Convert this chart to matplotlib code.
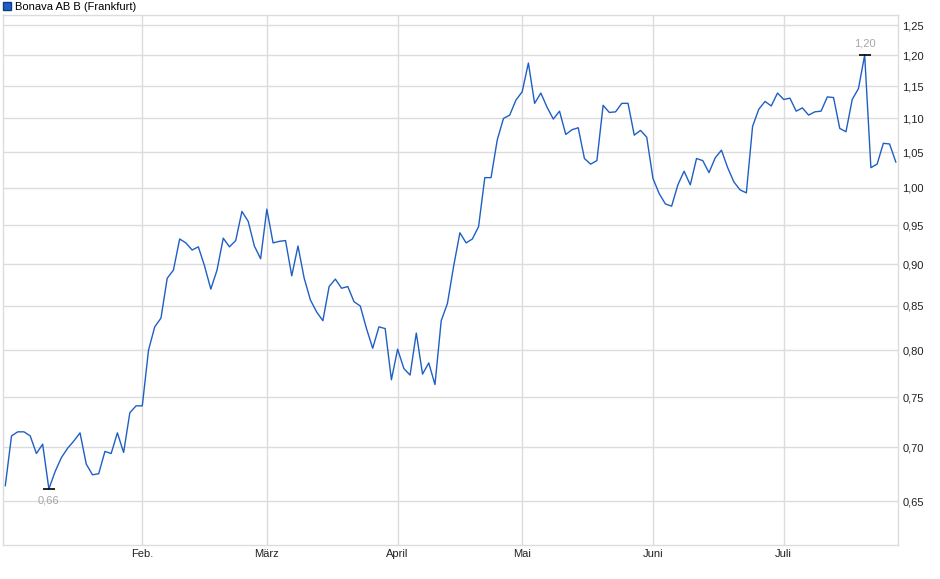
import matplotlib
matplotlib.use('Agg')
import matplotlib.pyplot as plt
from matplotlib.ticker import FixedLocator, FuncFormatter, NullLocator
from matplotlib.lines import Line2D
import numpy as np
import pandas as pd

plt.rcParams['font.family'] = ['Liberation Sans', 'DejaVu Sans']

# Handelstage Frankfurt, 02.01.2025 - 25.07.2025
dates = pd.bdate_range('2025-01-02', '2025-07-25')
holidays = pd.to_datetime(['2025-04-18', '2025-04-21', '2025-05-01'])
dates = dates[~dates.isin(holidays)]

# Schlusskurse (EUR)
prices = [
    0.664, 0.711, 0.715, 0.715, 0.711, 0.694, 0.703, 0.661, 0.677, 0.690,
    0.699, 0.706, 0.714, 0.684, 0.674, 0.675, 0.696, 0.694, 0.714, 0.695,
    0.734, 0.741, 0.741, 0.800, 0.826, 0.836, 0.883, 0.893, 0.932, 0.927,
    0.918, 0.922, 0.898, 0.870, 0.893, 0.933, 0.922, 0.930, 0.968, 0.955,
    0.923, 0.907, 0.971, 0.927, 0.929, 0.930, 0.886, 0.923, 0.883, 0.857,
    0.843, 0.833, 0.873, 0.882, 0.871, 0.873, 0.855, 0.850, 0.824, 0.802,
    0.826, 0.824, 0.768, 0.801, 0.780, 0.773, 0.819, 0.774, 0.786, 0.763,
    0.833, 0.853, 0.898, 0.940, 0.927, 0.932, 0.948, 1.014, 1.014, 1.068,
    1.100, 1.105, 1.128, 1.141, 1.187, 1.123, 1.139, 1.117, 1.099, 1.111,
    1.076, 1.083, 1.086, 1.041, 1.033, 1.038, 1.120, 1.109, 1.110, 1.123,
    1.123, 1.075, 1.082, 1.072, 1.013, 0.992, 0.978, 0.975, 1.004, 1.023,
    1.004, 1.041, 1.038, 1.021, 1.042, 1.053, 1.028, 1.008, 0.997, 0.993,
    1.088, 1.114, 1.126, 1.119, 1.139, 1.129, 1.131, 1.111, 1.116, 1.105,
    1.110, 1.111, 1.133, 1.132, 1.085, 1.080, 1.129, 1.146, 1.200, 1.028,
    1.033, 1.063, 1.062, 1.036,
]

month_names = ['Feb.', 'März', 'April', 'Mai', 'Juni', 'Juli']
y_ticks = [0.65, 0.70, 0.75, 0.80, 0.85, 0.90, 0.95, 1.00, 1.05, 1.10, 1.15, 1.20, 1.25]

line_color = '#1f5fc4'
grid_color = '#dcdcdc'

df = pd.DataFrame({'date': dates, 'price': prices})
idx = np.arange(len(df))

# erster Handelstag jedes Monats (ab Februar)
months = df['date'].dt.month
month_pos = [int(np.argmax(months.values == m)) for m in range(2, 8)]

fig = plt.figure(figsize=(9.4, 5.79), dpi=100)
ax = fig.add_axes([3.3 / 940, 1 - 545 / 579, 895 / 940, 530 / 579])

ax.plot(idx, df['price'], color=line_color, linewidth=1.0)

ax.set_yscale('log')
ax.set_ylim(0.612, 1.268)
ax.set_xlim(-0.32, len(df) - 1 + 0.4)

ax.yaxis.set_major_locator(FixedLocator(y_ticks))
ax.yaxis.set_minor_locator(NullLocator())
ax.yaxis.set_major_formatter(FuncFormatter(lambda v, p: f'{v:.2f}'.replace('.', ',')))
ax.yaxis.tick_right()
ax.set_xticks(month_pos)
ax.set_xticklabels(month_names)
ax.xaxis.set_minor_locator(NullLocator())

ax.tick_params(axis='both', length=0, labelsize=8, colors='#222222')
ax.tick_params(axis='y', pad=3.0)
ax.tick_params(axis='x', pad=3.0)

ax.grid(True, color=grid_color, linewidth=1.0)
ax.set_axisbelow(True)
for s in ax.spines.values():
    s.set_color(grid_color)
    s.set_linewidth(1.0)

# Minimum und Maximum markieren
i_min = int(np.argmin(prices))
i_max = int(np.argmax(prices))
for i, off, va in [(i_min, -5, 'top'), (i_max, 5, 'bottom')]:
    ax.plot(i, prices[i], marker='_', markersize=9, markeredgewidth=1.2, color='black')
    ax.annotate(f'{prices[i]:.2f}'.replace('.', ','), (i, prices[i]),
                xytext=(0, off), textcoords='offset points',
                ha='center', va=va, fontsize=8, color='#a6a6a6')

# Legende oben links
handle = Line2D([], [], linestyle='none', marker='s', markersize=6,
                markerfacecolor=line_color, markeredgecolor='#0d3d8a')
fig.legend([handle], ['Bonava AB B (Frankfurt)'], loc='upper left',
           bbox_to_anchor=(-0.004, 1.008), frameon=False, fontsize=8,
           handlelength=0.8, handletextpad=0.3, borderaxespad=0.2)

fig.savefig('out.png', dpi=100)
